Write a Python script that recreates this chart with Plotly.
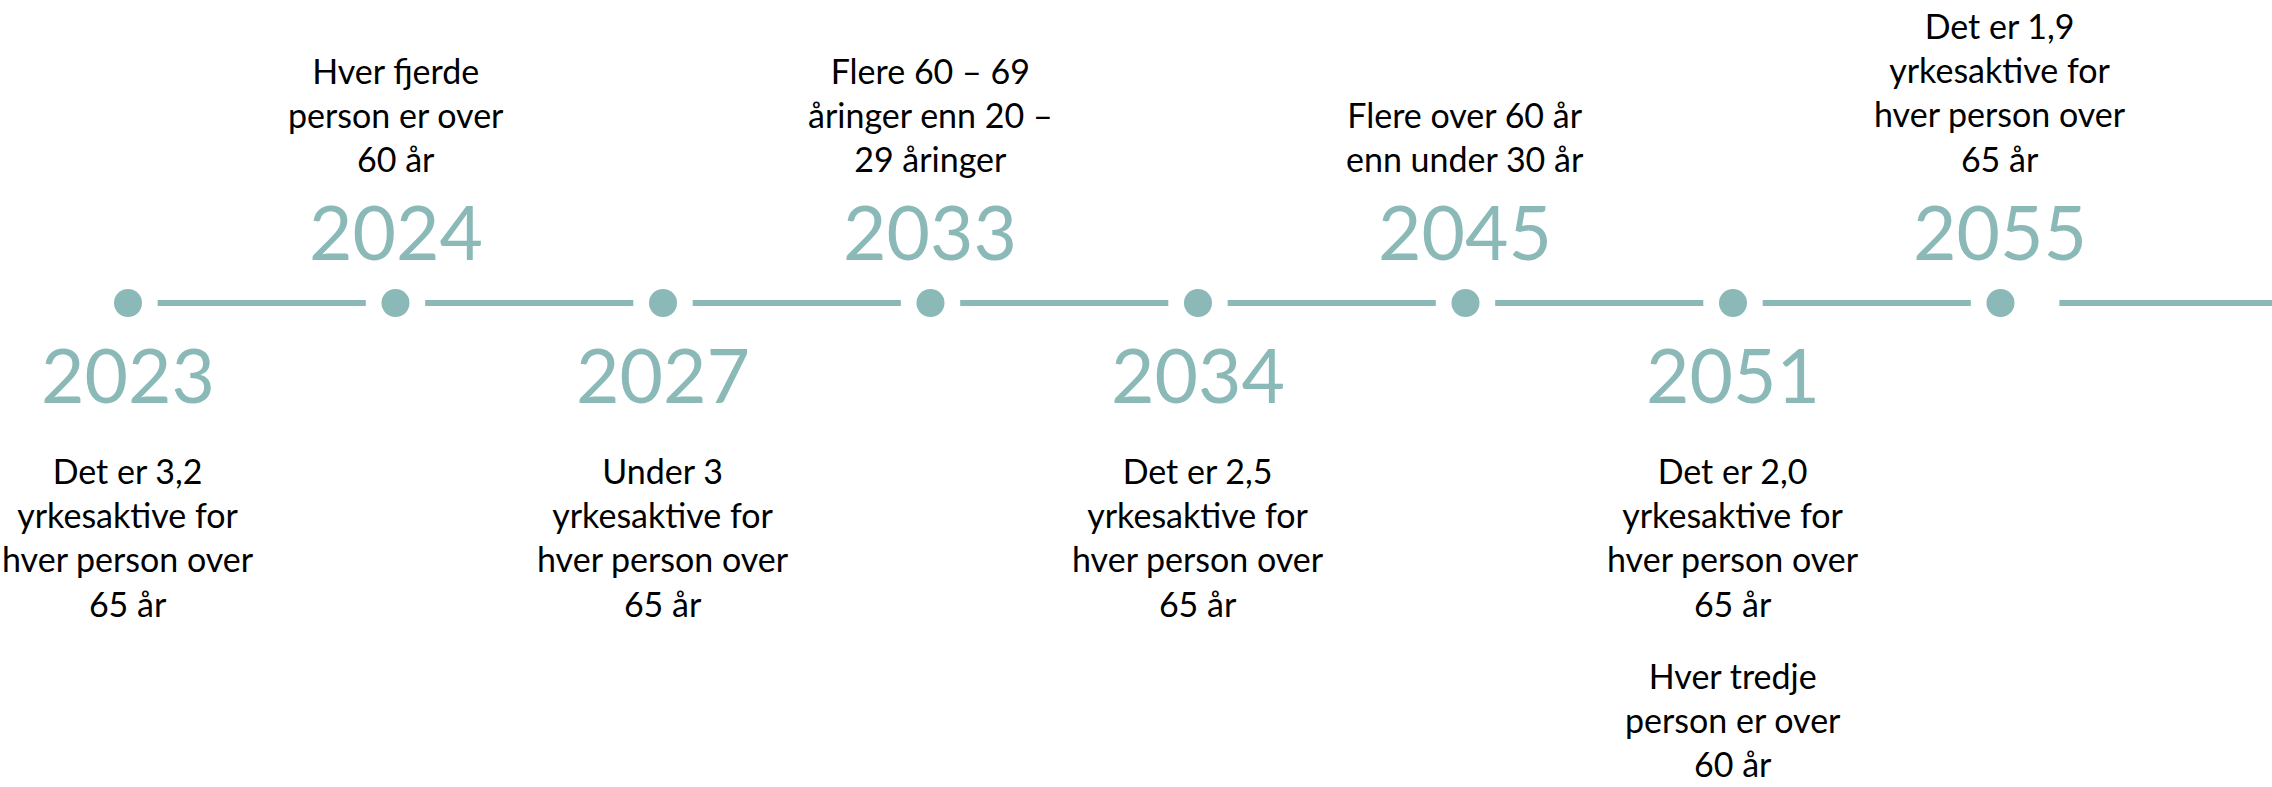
import plotly.graph_objects as go

# ---- data ----
years = ["2023", "2024", "2027", "2033", "2034", "2045", "2051", "2055"]
notes = [
    [["Det er 3,2", "yrkesaktive for", "hver person over", "65 år"]],
    [["Hver fjerde", "person er over", "60 år"]],
    [["Under 3", "yrkesaktive for", "hver person over", "65 år"]],
    [["Flere 60 – 69", "åringer enn 20 –", "29 åringer"]],
    [["Det er 2,5", "yrkesaktive for", "hver person over", "65 år"]],
    [["Flere over 60 år", "enn under 30 år"]],
    [["Det er 2,0", "yrkesaktive for", "hver person over", "65 år"],
     ["Hver tredje", "person er over", "60 år"]],
    [["Det er 1,9", "yrkesaktive for", "hver person over", "65 år"]],
]

# ---- style / layout constants ----
W, H = 2272, 787
TEAL = "#8AB9B7"
LINE_Y = 303
YEAR_Y_ABOVE = 231
YEAR_Y_BELOW = 374
TEXT_TOP_BELOW = 449
TEXT_BOTTOM_ABOVE = 180
LINE_H = 45
PARA_GAP = 25
GAP = 0.111
END_GAP = 0.22
TEXT_FONT = dict(family="Lato, 'Open Sans', sans-serif", size=34, color="black")
YEAR_FONT = dict(family="Lato, 'Open Sans', sans-serif", size=75, color=TEAL)

n = len(years)
idx = list(range(n))

fig = go.Figure()

# connecting line segments with gaps around dots
seg_x, seg_y = [], []
for i in range(n - 1):
    seg_x += [i + GAP, i + 1 - GAP, None]
    seg_y += [LINE_Y, LINE_Y, None]
seg_x += [n - 1 + END_GAP, n + 0.1]
seg_y += [LINE_Y, LINE_Y]
fig.add_trace(go.Scatter(x=seg_x, y=seg_y, mode="lines",
                         line=dict(color=TEAL, width=6), hoverinfo="skip"))

# dots
fig.add_trace(go.Scatter(x=idx, y=[LINE_Y] * n, mode="markers",
                         marker=dict(color=TEAL, size=28, line=dict(width=0)),
                         text=years, hoverinfo="text"))

for i, (yr, paras) in enumerate(zip(years, notes)):
    above = i % 2 == 1
    fig.add_annotation(x=i, y=YEAR_Y_ABOVE if above else YEAR_Y_BELOW, text=yr,
                       showarrow=False, xanchor="center", yanchor="middle",
                       font=YEAR_FONT)
    if above:
        fig.add_annotation(x=i, y=TEXT_BOTTOM_ABOVE, text="<br>".join(paras[0]),
                           showarrow=False, xanchor="center", yanchor="bottom",
                           align="center", font=TEXT_FONT, borderpad=0)
    else:
        top = TEXT_TOP_BELOW
        for p in paras:
            fig.add_annotation(x=i, y=top, text="<br>".join(p),
                               showarrow=False, xanchor="center", yanchor="top",
                               align="center", font=TEXT_FONT, borderpad=0)
            top += len(p) * LINE_H + PARA_GAP

fig.update_layout(
    width=W, height=H,
    margin=dict(l=0, r=0, t=0, b=0),
    paper_bgcolor="white", plot_bgcolor="white",
    showlegend=False,
    xaxis=dict(range=[-0.4785, 8.015], visible=False, fixedrange=True),
    yaxis=dict(range=[H, 0], visible=False, fixedrange=True),
)

fig.write_html(
    "out.html",
    config={"displayModeBar": False},
    post_script="document.body.style.margin='0';document.body.style.overflow='hidden';",
)
